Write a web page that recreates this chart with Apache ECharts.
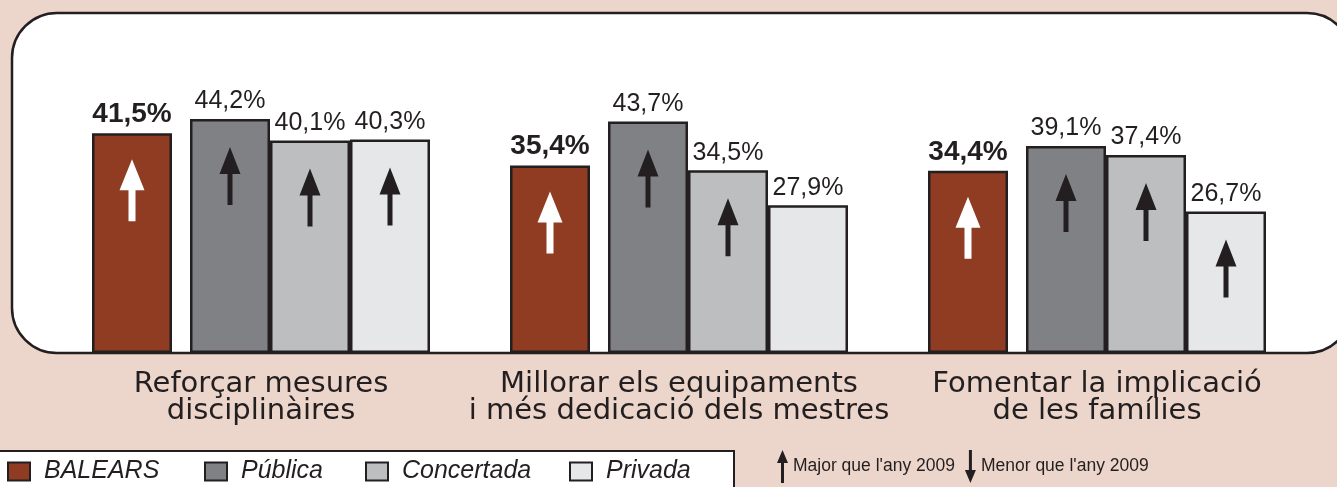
<!DOCTYPE html>
<html>
<head>
<meta charset="utf-8">
<script src="https://cdn.jsdelivr.net/npm/echarts@6/dist/echarts.min.js"></script>
<style>
  html, body { margin: 0; padding: 0; background: #ecd5ca; }
  #main { width: 1337px; height: 487px; }
</style>
</head>
<body>
<div id="main"></div>
<script>
// dades
const categories = [
  'Reforçar mesures\ndisciplinàires',
  'Millorar els equipaments\ni més dedicació dels mestres',
  'Fomentar la implicació\nde les famílies'
];
const balears = [41.5, 35.4, 34.4];
const publica = [44.2, 43.7, 39.1];
const concertada = [40.1, 34.5, 37.4];
const privada = [40.3, 27.9, 26.7];
// 1 = major que 2009, -1 = menor, 0 = sense fletxa
const balearsTrend = [1, 1, 1];
const publicaTrend = [1, 1, 1];
const concertadaTrend = [1, 1, 1];
const privadaTrend = [1, 0, 1];

const ink = '#231f20';
const barW = 80, sepW = 18;
const total = barW * 4 + sepW;
// centre de cada barra respecte al centre de la categoria
const offs = [
  -total / 2 + barW / 2,
  -total / 2 + barW + sepW + barW / 2,
  -total / 2 + barW * 2 + sepW + barW / 2,
  -total / 2 + barW * 3 + sepW + barW / 2
];

const upWhite = 'path://M12.5,0L25,31L16,31L16,62L9,62L9,31L0,31Z';
const upBlack = 'path://M10.5,0L21,27L13,27L13,58L8,58L8,27L0,27Z';
const downBlack = 'path://M8,0L13,0L13,31L21,31L10.5,58L0,31L8,31Z';
const upSmall = 'path://M5.5,0L11,13L7,13L7,33L4,33L4,13L0,13Z';
const downSmall = 'path://M4,0L7,0L7,20L11,20L5.5,33L0,20L4,20Z';

const fmt = (v) => v.toFixed(1).replace('.', ',') + '%';

let myChart = echarts.init(document.getElementById('main'));

const groups = [
  { name: 'BALEARS', data: balears, trend: balearsTrend, color: '#8f3c23', bold: true },
  { name: 'Pública', data: publica, trend: publicaTrend, color: '#808184' },
  { name: 'Concertada', data: concertada, trend: concertadaTrend, color: '#bcbec0' },
  { name: 'Privada', data: privada, trend: privadaTrend, color: '#e6e7e8' }
];

let upData = [], downData = [];
groups.forEach((g, k) => {
  g.trend.forEach((t, i) => {
    if (!t) return;
    const white = k === 0;
    const item = {
      value: [i, g.data[i]],
      symbol: t > 0 ? (white ? upWhite : upBlack) : downBlack,
      symbolSize: white ? [25, 62] : [21, 58],
      symbolOffset: [offs[k], 57],
      itemStyle: { color: white ? '#fff' : ink, opacity: 1 }
    };
    (t > 0 ? upData : downData).push(item);
  });
});

let series = [];
groups.forEach((g, k) => {
  series.push({
    name: g.name,
    type: 'bar',
    barWidth: barW,
    barGap: '0%',
    data: g.data,
    itemStyle: { color: g.color, borderColor: ink, borderWidth: 2.5 },
    label: {
      show: true,
      position: 'top',
      distance: 5,
      color: ink,
      fontFamily: 'Liberation Sans, Arial',
      fontSize: g.bold ? 28 : 25,
      fontWeight: g.bold ? 'bold' : 'normal',
      formatter: (p) => fmt(p.value)
    }
  });
  // separacio entre BALEARS i la resta
  if (k === 0) {
    series.push({ name: '_sep', type: 'bar', barWidth: sepW, barGap: '0%', data: [] });
  }
});
series.push({
  name: "Major que l'any 2009",
  type: 'scatter',
  itemStyle: { color: ink, opacity: 1 },
  data: upData,
  z: 5
});
series.push({
  name: "Menor que l'any 2009",
  type: 'scatter',
  itemStyle: { color: ink, opacity: 1 },
  data: downData,
  z: 5
});

let option = {
  backgroundColor: '#ecd5ca',
  animation: false,
  graphic: [{
    type: 'rect',
    z: 0,
    silent: true,
    shape: { x: 12, y: 13, width: 1340, height: 340, r: 45 },
    style: { fill: '#fff', stroke: ink, lineWidth: 2.5 }
  }],
  grid: { left: 52, right: 31, top: 14, bottom: 134 },
  xAxis: {
    type: 'category',
    data: categories,
    axisLine: { show: false },
    axisTick: { show: false },
    axisLabel: {
      interval: 0,
      hideOverlap: false,
      margin: 18,
      color: ink,
      fontFamily: 'DejaVu Sans',
      fontSize: 29,
      lineHeight: 27
    }
  },
  yAxis: { type: 'value', min: 0, max: 64, show: false },
  legend: [{
    data: [
      { name: 'BALEARS', textStyle: { width: 144 } },
      { name: 'Pública', textStyle: { width: 108 } },
      { name: 'Concertada', textStyle: { width: 151 } },
      { name: 'Privada', textStyle: { width: 100 } }
    ],
    left: -10,
    top: 451,
    icon: 'rect',
    itemWidth: 22,
    itemHeight: 18,
    itemGap: 16,
    padding: [8, 28, 20, 17],
    backgroundColor: '#fff',
    borderColor: ink,
    borderWidth: 2,
    selectedMode: false,
    itemStyle: { borderColor: ink, borderWidth: 2 },
    textStyle: {
      color: ink,
      fontFamily: 'Liberation Sans, Arial',
      fontStyle: 'italic',
      fontSize: 25,
      lineHeight: 24,
      padding: [0, 0, 0, 9]
    }
  }, {
    data: [
      { name: "Major que l'any 2009", icon: upSmall },
      { name: "Menor que l'any 2009", icon: downSmall }
    ],
    left: 777,
    top: 450,
    padding: 0,
    itemWidth: 11,
    itemHeight: 33,
    itemGap: 10,
    selectedMode: false,
    itemStyle: { color: ink, borderWidth: 0, opacity: 1 },
    textStyle: {
      color: ink,
      fontFamily: 'Liberation Sans, Arial',
      fontSize: 17.5,
      padding: [12, 0, 0, 0]
    }
  }],
  series: series
};

myChart.setOption(option);
</script>
</body>
</html>
